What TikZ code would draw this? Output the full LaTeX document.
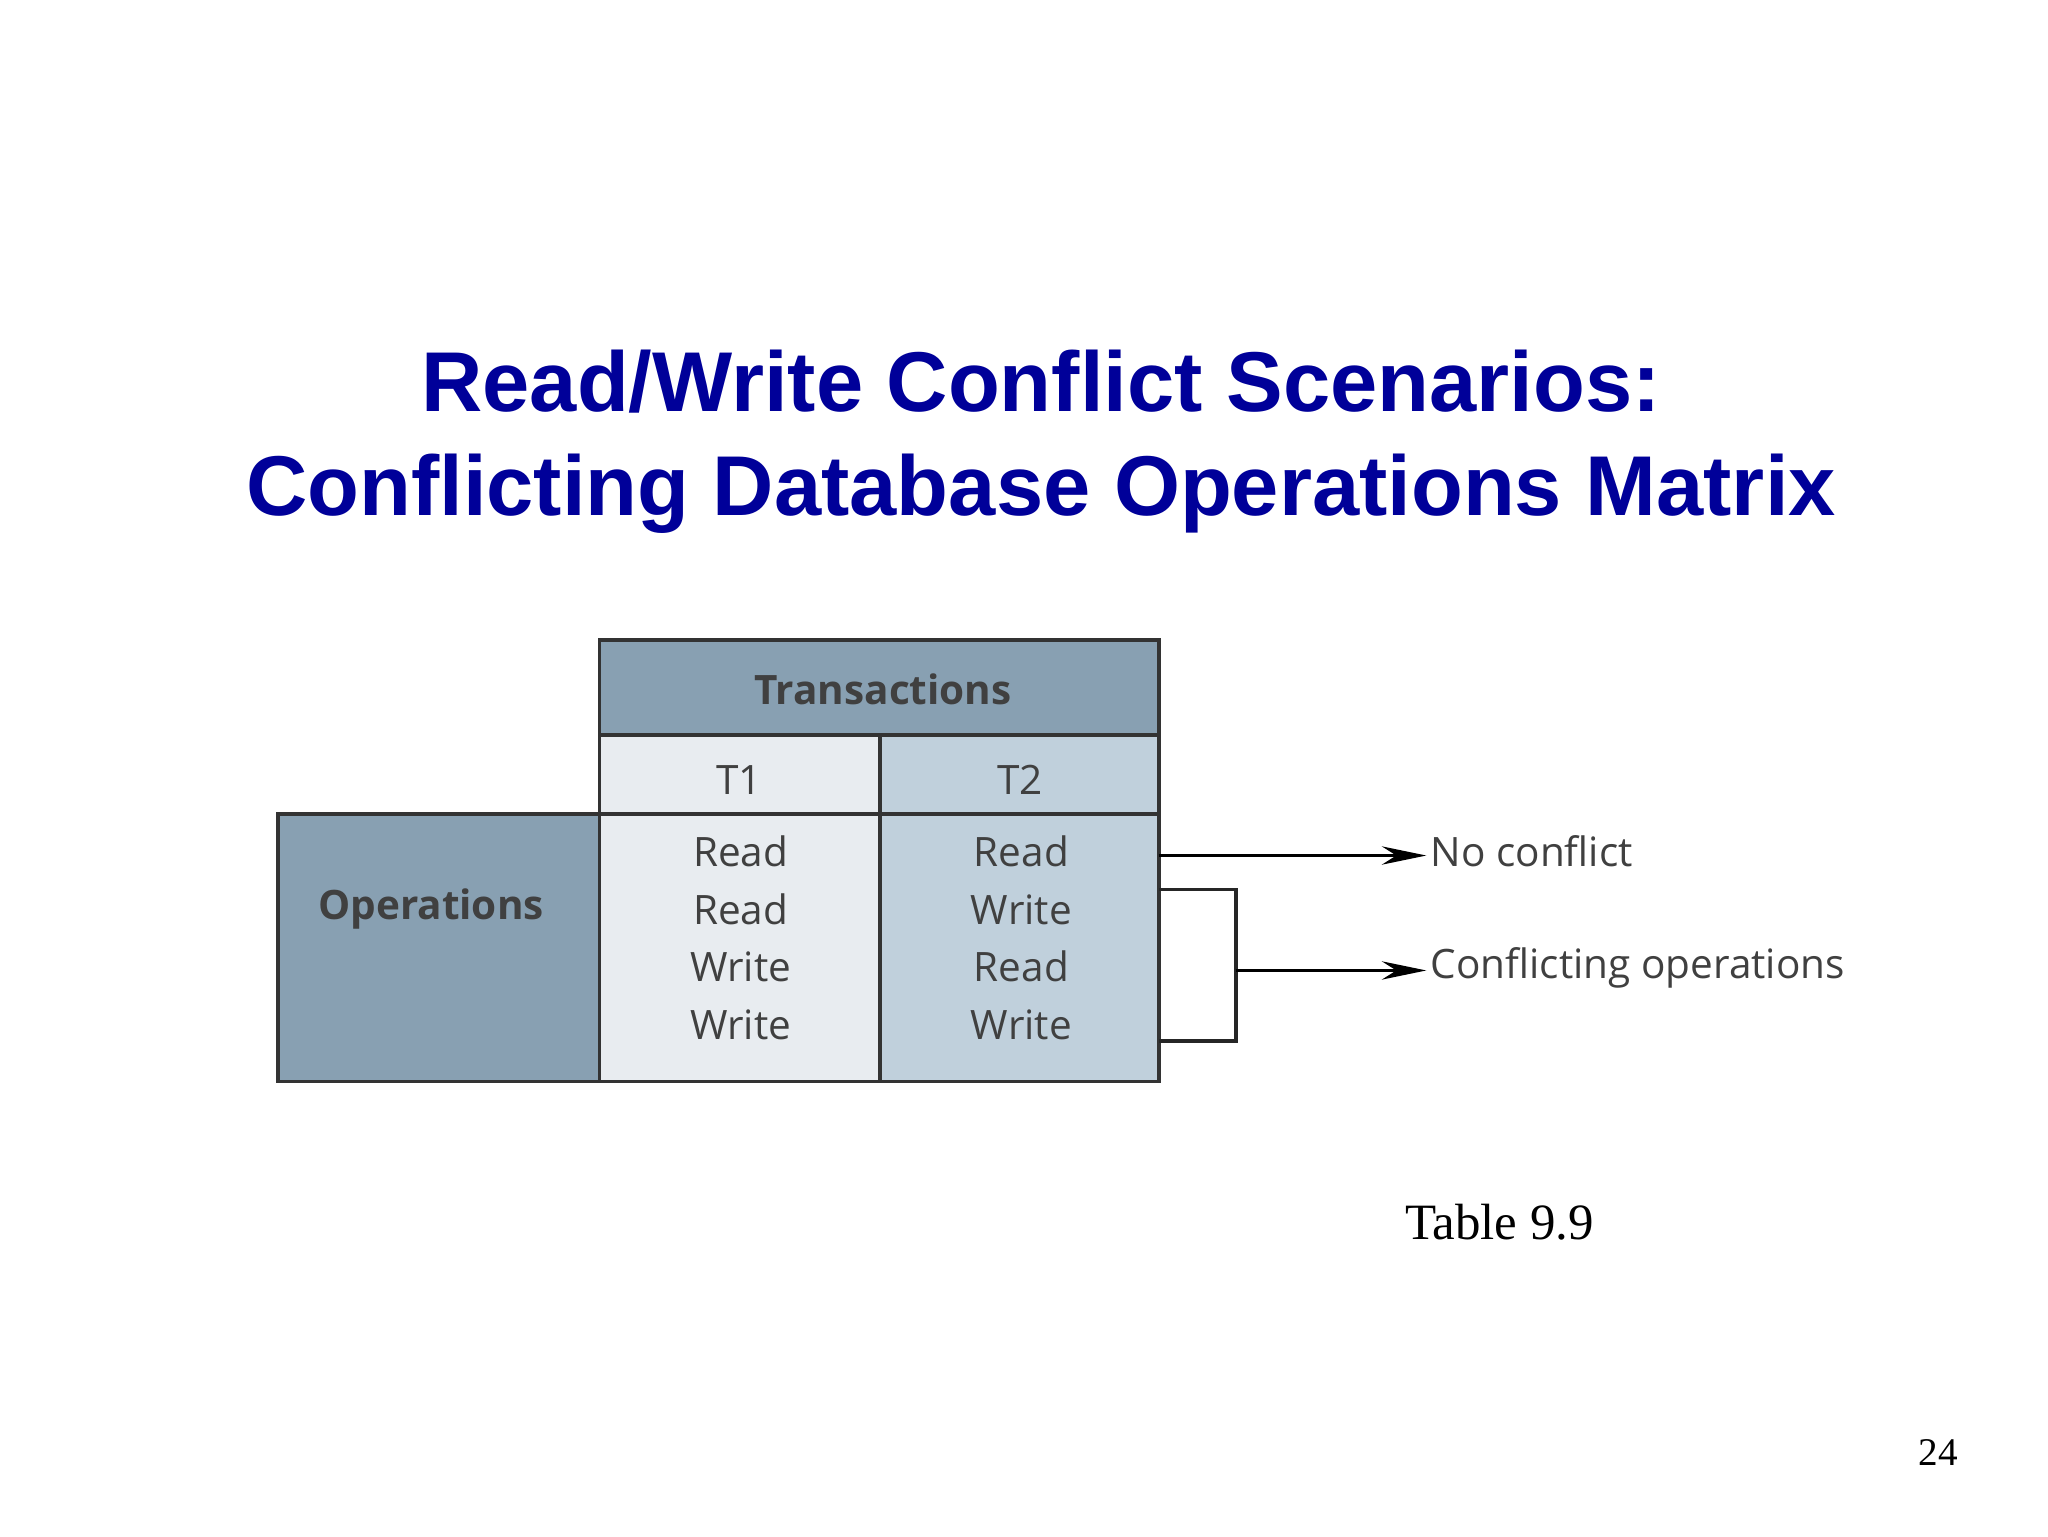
\documentclass[tikz,border=0pt]{standalone}
\usepackage{fontspec}
\setmainfont{Liberation Serif}
\newfontfamily\titlefont{Liberation Sans}
\newfontfamily\tabfont{Open Sans}
\usetikzlibrary{arrows.meta}
\definecolor{navy}{RGB}{0,0,153}
\definecolor{dark}{RGB}{136,160,178}
\definecolor{light}{RGB}{232,236,240}
\definecolor{mid}{RGB}{192,208,220}
\tikzset{
  cell/.style={draw=black!80, line width=3pt},
  tx/.style={font=\tabfont\fontsize{31}{37}\selectfont, text=black!75},
  conn/.style={line width=2.5pt, -{Stealth[length=34pt,width=14pt]}},
}
\begin{document}
\begin{tikzpicture}[x=1pt,y=-1pt]
\useasboundingbox[fill=white] (0,0) rectangle (1568,1176);
\node[font=\titlefont\bfseries\fontsize{65}{80}\selectfont, text=navy, align=center] (title) at (797,338)
  {Read/Write Conflict Scenarios:\\Conflicting Database Operations Matrix};
% table
\fill[light] (459,623) rectangle (674,828);
\fill[mid] (674,623) rectangle (887,828);
\draw[cell, fill=dark] (459,490) rectangle (887,563);
\draw[cell, fill=light] (459,563) rectangle (674,623);
\draw[cell, fill=mid] (674,563) rectangle (887,623);
\draw[cell, fill=dark] (213,623) rectangle (459,828);
\draw[cell] (459,623) rectangle (674,828);
\draw[cell] (674,623) rectangle (887,828);
\node[tx, font=\tabfont\bfseries\fontsize{31}{37}\selectfont] (trans) at (676,528) {Transactions};
\node[tx] (t1) at (566,597) {T1};
\node[tx] (t2) at (781,597) {T2};
\node[tx, font=\tabfont\bfseries\fontsize{31}{37}\selectfont] (ops) at (330,696) {Operations};
\node[tx, align=center, font=\tabfont\fontsize{31}{44}\selectfont] (c1) at (567,718) {Read\\Read\\Write\\Write};
\node[tx, align=center, font=\tabfont\fontsize{31}{44}\selectfont] (c2) at (782,718) {Read\\Write\\Read\\Write};
% connectors
\node[tx, anchor=west] (nc) at (1092,652) {No conflict};
\node[tx, anchor=west] (co) at (1092,741) {Conflicting operations};
\coordinate (a1) at (887,655);
\coordinate (b0) at (887,681);
\coordinate (b1) at (946,681);
\coordinate (b2) at (946,797);
\coordinate (b3) at (887,797);
\coordinate (bm) at (946,743);
\draw[conn] (a1) -- (nc.west |- a1);
\draw[line width=3pt, black!85] (b0) -- (b1) -- (b2) -- (b3);
\draw[conn] (bm) -- (co.west |- bm);
\node[font=\fontsize{39}{44}\selectfont] (tab) at (1148,936) {Table 9.9};
\node[font=\fontsize{30}{34}\selectfont] (pg) at (1484,1112) {24};
\end{tikzpicture}
\end{document}
